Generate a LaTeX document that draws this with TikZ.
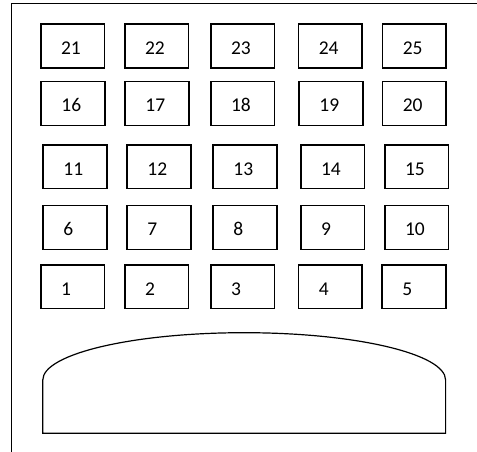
\documentclass[tikz,border=0pt]{standalone}
\usepackage{fontspec}
\setmainfont{Carlito}
\begin{document}
\begin{tikzpicture}[x=1pt,y=-1pt,
  box/.style={draw,line width=1.6pt,minimum width=63.6pt,minimum height=43.8pt,inner sep=0pt,outer sep=0pt,anchor=north west},
  num/.style={anchor=base west,inner sep=0pt,outer sep=0pt,font=\fontsize{19.5}{22}\selectfont},
  frame/.style={line width=1.3pt},
  tray/.style={line width=1.2pt}]
\useasboundingbox (0,0) rectangle (477,452);
\fill[white] (0,0) rectangle (477,452);
\draw[frame] (11.6,452) -- (11.6,3.4) -- (477,3.4);
\foreach \base/\y/\xa/\xb/\xc/\xd/\xe in {
  20/23.3/40/124/210/297.7/381.7,
  15/80.7/40.3/124.3/210/298.3/381.7,
  10/144/42.3/126.3/212.3/300/384,
  5/204.7/42.3/126.3/212.3/300/384,
  0/264/40/124/210/297.7/381.3} {
  \foreach \i/\x in {1/\xa,2/\xb,3/\xc,4/\xd,5/\xe} {
    \pgfmathtruncatemacro\n{\base+\i}
    \node[box] (b\n) at (\x+0.8,\y+0.8) {};
    \node[num] (t\n) at ([shift={(20.3,30.4)}]b\n.north west) {\n};
  }
}
\draw[tray] (42.8,380) -- (42.8,433.2) -- (445.6,433.2) -- (445.6,380)
  arc[start angle=0,end angle=-180,x radius=201.4,y radius=47.3] -- cycle;
\end{tikzpicture}
\end{document}
